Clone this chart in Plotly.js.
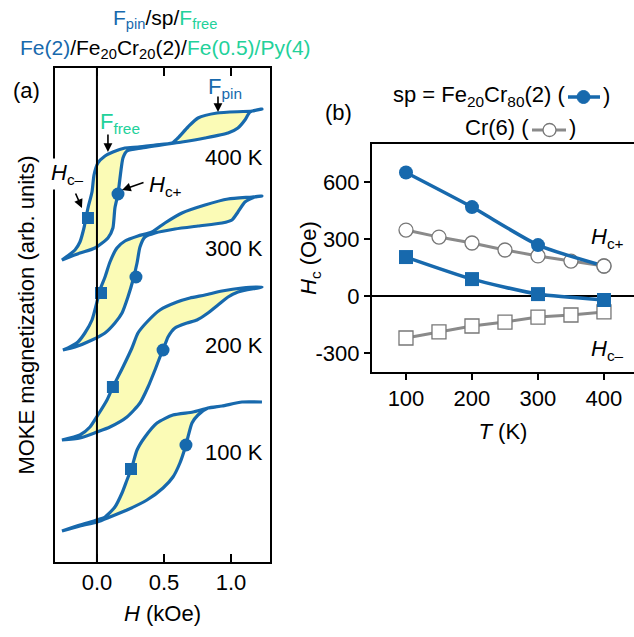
<!DOCTYPE html>
<html>
<head>
<meta charset="utf-8">
<script src="https://cdn.plot.ly/plotly-3.0.1.min.js"></script>
<style>html,body{margin:0;padding:0;background:#fff;}#chart{width:634px;height:637px;}</style>
</head>
<body>
<div id="chart"></div>
<script>
// ---------- Panel (a): MOKE loops (H in kOe, M in arb. units, stacked) ----------
const loopTemps = ['400 K', '300 K', '200 K', '100 K'];

const H400_down = [1.231, 1.157, 0.896, 0.754, 0.679, 0.604, 0.560, 0.433, 0.306, 0.209, 0.119, 0.060, 0.007, -0.022, -0.037, -0.067, -0.097, -0.127, -0.164, -0.261];
const M400_down = [4.53, 4.51, 4.49, 4.44, 4.35, 4.24, 4.19, 4.17, 4.15, 4.14, 4.10, 4.06, 3.99, 3.87, 3.70, 3.54, 3.34, 3.20, 3.12, 3.02];
const H400_up = [-0.261, -0.127, -0.015, 0.082, 0.119, 0.134, 0.157, 0.172, 0.194, 0.224, 0.336, 0.530, 0.634, 0.806, 0.978, 1.052, 1.104, 1.142, 1.231];
const M400_up = [3.02, 3.09, 3.14, 3.24, 3.34, 3.54, 3.68, 3.84, 4.04, 4.11, 4.14, 4.18, 4.20, 4.24, 4.29, 4.34, 4.42, 4.50, 4.53];

const H300_down = [1.231, 1.157, 0.978, 0.806, 0.634, 0.507, 0.410, 0.306, 0.209, 0.149, 0.097, 0.060, 0.022, 0.000, -0.037, -0.090, -0.142, -0.216, -0.254];
const M300_down = [3.66, 3.65, 3.63, 3.57, 3.49, 3.39, 3.30, 3.26, 3.21, 3.14, 3.00, 2.85, 2.72, 2.60, 2.42, 2.29, 2.20, 2.14, 2.12];
const H300_up = [-0.254, -0.164, -0.037, 0.060, 0.134, 0.187, 0.231, 0.269, 0.299, 0.321, 0.358, 0.433, 0.582, 0.754, 0.933, 1.007, 1.052, 1.104, 1.179, 1.231];
const M300_up = [2.12, 2.15, 2.22, 2.29, 2.39, 2.49, 2.65, 2.82, 2.99, 3.15, 3.25, 3.29, 3.33, 3.36, 3.39, 3.42, 3.50, 3.60, 3.65, 3.66];

const H200_down = [1.231, 1.082, 0.933, 0.806, 0.694, 0.597, 0.470, 0.373, 0.306, 0.261, 0.194, 0.119, 0.075, 0.007, -0.052, -0.127, -0.261];
const M200_down = [2.75, 2.74, 2.71, 2.67, 2.64, 2.60, 2.52, 2.40, 2.29, 2.14, 1.95, 1.75, 1.62, 1.47, 1.35, 1.27, 1.22];
const H200_up = [-0.261, -0.127, 0.000, 0.097, 0.224, 0.321, 0.381, 0.433, 0.470, 0.493, 0.530, 0.582, 0.672, 0.746, 0.828, 0.903, 0.978, 1.052, 1.231];
const M200_up = [1.22, 1.24, 1.30, 1.35, 1.45, 1.59, 1.75, 1.92, 2.05, 2.12, 2.25, 2.34, 2.39, 2.42, 2.49, 2.57, 2.65, 2.70, 2.75];

const H100_down = [1.231, 1.082, 0.933, 0.828, 0.716, 0.567, 0.448, 0.358, 0.299, 0.261, 0.224, 0.187, 0.134, 0.060, 0.000, -0.127, -0.261];
const M100_down = [1.60, 1.60, 1.56, 1.54, 1.50, 1.47, 1.39, 1.25, 1.12, 0.95, 0.82, 0.69, 0.55, 0.45, 0.42, 0.37, 0.31];
const H100_up = [-0.261, -0.127, 0.000, 0.097, 0.224, 0.373, 0.493, 0.567, 0.619, 0.657, 0.679, 0.709, 0.754, 0.828, 0.933, 1.082, 1.231];
const M100_up = [0.31, 0.36, 0.40, 0.45, 0.52, 0.62, 0.74, 0.85, 0.99, 1.14, 1.25, 1.39, 1.47, 1.54, 1.56, 1.60, 1.60];

// Hc- (squares) and Hc+ (circles) marked on each loop, order 400,300,200,100 K
const loopSqH = [-0.067, 0.030, 0.119, 0.254];
const loopSqM = [3.44, 2.69, 1.75, 0.93];
const loopCirH = [0.157, 0.291, 0.493, 0.664];
const loopCirM = [3.68, 2.85, 2.12, 1.17];
const loopLabelM = [4.05, 3.14, 2.17, 1.10];

const xTicksA = [0, 0.5, 1.0];

// ---------- Panel (b): Hc vs T ----------
const T_fecr = [100, 200, 300, 400];
const HcPlus_fecr = [650, 468, 268, 158];
const HcMinus_fecr = [205, 89, 10, -21];
const T_cr = [100, 150, 200, 250, 300, 350, 400];
const HcPlus_cr = [347, 310, 279, 242, 211, 184, 158];
const HcMinus_cr = [-221, -189, -158, -137, -111, -100, -84];
const xTicksB = [100, 200, 300, 400];
const yTicksB = [-300, 0, 300, 600];
const yTickTextB = ['-300', '0', '300', '600'];

// ---------- styles ----------
const BLUE = '#1769ad';
const GREEN = '#22d19a';
const YELLOW = '#fbfbb6';
const GRAY = '#8a8a8a';
const FONT = 'Liberation Sans, Arial, Helvetica, sans-serif';
const FS = 22;
const W = 634, Hh = 637;
const px = function (v) { return v / W; };
const py = function (v) { return 1 - v / Hh; };

const loops = [
  [H400_down, M400_down, H400_up, M400_up],
  [H300_down, M300_down, H300_up, M300_up],
  [H200_down, M200_down, H200_up, M200_up],
  [H100_down, M100_down, H100_up, M100_up]
];

const traces = [];
loops.forEach(function (L) {
  traces.push({
    x: L[0].concat(L[2]), y: L[1].concat(L[3]),
    xaxis: 'x', yaxis: 'y', type: 'scatter', mode: 'lines',
    fill: 'toself', fillcolor: YELLOW,
    line: {color: BLUE, width: 3.2, shape: 'spline', smoothing: 0.6},
    hoverinfo: 'skip'
  });
});
traces.push({x: loopSqH, y: loopSqM, xaxis: 'x', yaxis: 'y', type: 'scatter', mode: 'markers',
  marker: {symbol: 'square', size: 12, color: BLUE}});
traces.push({x: loopCirH, y: loopCirM, xaxis: 'x', yaxis: 'y', type: 'scatter', mode: 'markers',
  marker: {symbol: 'circle', size: 13, color: BLUE}});

// panel b
traces.push({x: T_cr, y: HcPlus_cr, xaxis: 'x2', yaxis: 'y2', type: 'scatter', mode: 'lines+markers',
  line: {color: GRAY, width: 3}, marker: {symbol: 'circle', size: 14, color: '#fff', line: {color: '#777', width: 1.3}}});
traces.push({x: T_cr, y: HcMinus_cr, xaxis: 'x2', yaxis: 'y2', type: 'scatter', mode: 'lines+markers',
  line: {color: GRAY, width: 3}, marker: {symbol: 'square', size: 14, color: '#fff', line: {color: '#777', width: 1.3}}});
traces.push({x: T_fecr, y: HcPlus_fecr, xaxis: 'x2', yaxis: 'y2', type: 'scatter', mode: 'lines+markers',
  line: {color: BLUE, width: 3.5, shape: 'spline', smoothing: 0.6}, marker: {symbol: 'circle', size: 14, color: BLUE}});
traces.push({x: T_fecr, y: HcMinus_fecr, xaxis: 'x2', yaxis: 'y2', type: 'scatter', mode: 'lines+markers',
  line: {color: BLUE, width: 3.5, shape: 'spline', smoothing: 0.6}, marker: {symbol: 'square', size: 14, color: BLUE}});
// the 400 K gray circle is drawn on top of the blue one, as in the figure
traces.push({x: T_cr.slice(-1), y: HcPlus_cr.slice(-1), xaxis: 'x2', yaxis: 'y2', type: 'scatter', mode: 'markers',
  marker: {symbol: 'circle', size: 14, color: '#fff', line: {color: '#777', width: 1.3}}});

const annotations = [];
function ann(o) { annotations.push(Object.assign({showarrow: false, font: {family: FONT, size: FS, color: '#000'}}, o)); }

ann({text: '(a)', xref: 'paper', yref: 'paper', x: px(26), y: py(90), xanchor: 'center', yanchor: 'middle'});
ann({text: '(b)', xref: 'paper', yref: 'paper', x: px(338), y: py(112), xanchor: 'center', yanchor: 'middle'});
ann({text: '<span style="color:' + BLUE + '">F<sub>pin</sub></span>/sp/<span style="color:' + GREEN + '">F<sub>free</sub></span>',
  xref: 'paper', yref: 'paper', x: px(165), y: py(19), xanchor: 'center', yanchor: 'middle', font: {family: FONT, size: 21, color: '#000'}});
ann({text: '<span style="color:' + BLUE + '">Fe(2)</span>/Fe<sub>20</sub>Cr<sub>20</sub>(2)/<span style="color:' + GREEN + '">Fe(0.5)/Py(4)</span>',
  xref: 'paper', yref: 'paper', x: px(165), y: py(49), xanchor: 'center', yanchor: 'middle', font: {family: FONT, size: 21, color: '#000'}});

loopTemps.forEach(function (t, i) {
  ann({text: t, xref: 'x', yref: 'y', x: 1.022, y: loopLabelM[i], xanchor: 'center', yanchor: 'middle'});
});
ann({text: 'F<sub>free</sub>', xref: 'x', yref: 'y', x: 0.175, y: 4.39, xanchor: 'center', yanchor: 'middle', font: {family: FONT, size: FS, color: GREEN}});
ann({text: 'F<sub>pin</sub>', xref: 'x', yref: 'y', x: 0.955, y: 4.74, xanchor: 'center', yanchor: 'middle', font: {family: FONT, size: FS, color: BLUE}});
ann({text: '<i>H</i><sub>c\u2013</sub>', xref: 'x', yref: 'y', x: -0.222, y: 3.88, xanchor: 'center', yanchor: 'middle', bgcolor: '#fff'});
ann({text: '<i>H</i><sub>c+</sub>', xref: 'x', yref: 'y', x: 0.515, y: 3.76, xanchor: 'center', yanchor: 'middle'});
// arrows
function arrow(x, y, ax, ay) {
  annotations.push({text: '', xref: 'x', yref: 'y', x: x, y: y, ax: ax, ay: ay, showarrow: true,
    arrowhead: 2, arrowsize: 1.1, arrowwidth: 1.6, arrowcolor: '#000', standoff: 0, startstandoff: 0});
}
arrow(0.082, 4.10, 0, -19);
arrow(0.903, 4.50, 0, -17);
arrow(-0.112, 3.54, -7, -16);
arrow(0.187, 3.72, 23, -8);

// panel (b) key lines and labels
ann({text: 'sp = Fe<sub>20</sub>Cr<sub>80</sub>(2) (', xref: 'paper', yref: 'paper', x: px(567), y: py(96), xanchor: 'right', yanchor: 'middle'});
ann({text: ')', xref: 'paper', yref: 'paper', x: px(601), y: py(96), xanchor: 'left', yanchor: 'middle'});
ann({text: 'Cr(6) (', xref: 'paper', yref: 'paper', x: px(531), y: py(128), xanchor: 'right', yanchor: 'middle'});
ann({text: ')', xref: 'paper', yref: 'paper', x: px(567), y: py(128), xanchor: 'left', yanchor: 'middle'});
ann({text: '<i>H</i><sub>c+</sub>', xref: 'x2', yref: 'y2', x: 406, y: 305, xanchor: 'center', yanchor: 'middle'});
ann({text: '<i>H</i><sub>c\u2013</sub>', xref: 'x2', yref: 'y2', x: 406, y: -284, xanchor: 'center', yanchor: 'middle'});
ann({text: '<i>H</i><sub>c</sub> (Oe)', xref: 'paper', yref: 'paper', x: px(310), y: py(258), xanchor: 'center', yanchor: 'middle', textangle: -90});

const axisCommon = {showgrid: false, linecolor: '#000', linewidth: 2, tickcolor: '#000', tickwidth: 2,
  tickfont: {family: FONT, size: FS, color: '#000'}};

const layout = {
  width: W, height: Hh,
  margin: {l: 0, r: 0, t: 0, b: 0, pad: 0},
  paper_bgcolor: '#fff', plot_bgcolor: 'rgba(0,0,0,0)',
  showlegend: false,
  font: {family: FONT, size: FS, color: '#000'},
  xaxis: Object.assign({}, axisCommon, {
    domain: [px(55), px(270)], anchor: 'y', range: [-0.313, 1.291],
    tickvals: xTicksA, tickformat: '.1f', ticks: 'inside', ticklen: 8,
    showline: true, mirror: 'ticks', zeroline: false,
    title: {text: '<i>H</i> (kOe)', font: {family: FONT, size: FS}, standoff: 11}
  }),
  yaxis: Object.assign({}, axisCommon, {
    domain: [py(562), py(68)], anchor: 'x', range: [0, 4.94],
    showticklabels: false, ticks: '', showline: true, mirror: true, zeroline: false,
    title: {text: 'MOKE magnetization (arb. units)', font: {family: FONT, size: FS}, standoff: 12}
  }),
  xaxis2: Object.assign({}, axisCommon, {
    domain: [px(372), 1], anchor: 'y2', range: [48.5, 445.5],
    tickvals: xTicksB, ticks: 'outside', ticklen: 6,
    showline: true, mirror: true, zeroline: false,
    title: {text: '<i>T</i> (K)', font: {family: FONT, size: FS}, standoff: 13}
  }),
  yaxis2: Object.assign({}, axisCommon, {
    domain: [py(372), py(144)], anchor: 'x2', range: [-400, 800],
    tickvals: yTicksB, ticktext: yTickTextB, ticks: 'outside', ticklen: 6,
    showline: true, mirror: false, zeroline: true, zerolinecolor: '#000', zerolinewidth: 2
  }),
  shapes: [
    {type: 'line', xref: 'x', yref: 'y domain', x0: 0, x1: 0, y0: 0, y1: 1, line: {color: '#000', width: 2}, layer: 'above'},
    // key symbols for panel (b)
    {type: 'line', xref: 'paper', yref: 'paper', x0: px(568), x1: px(600), y0: py(97), y1: py(97), line: {color: BLUE, width: 3.5}},
    {type: 'circle', xref: 'paper', yref: 'paper', x0: px(577), x1: px(590), y0: py(103.5), y1: py(90.5), fillcolor: BLUE, line: {color: BLUE, width: 1}},
    {type: 'line', xref: 'paper', yref: 'paper', x0: px(532), x1: px(566), y0: py(130), y1: py(130), line: {color: GRAY, width: 3}},
    {type: 'circle', xref: 'paper', yref: 'paper', x0: px(543), x1: px(556), y0: py(136.5), y1: py(123.5), fillcolor: '#fff', line: {color: '#777', width: 1.3}}
  ],
  annotations: annotations
};

Plotly.newPlot('chart', traces, layout, {displayModeBar: false, staticPlot: true});
</script>
</body>
</html>
